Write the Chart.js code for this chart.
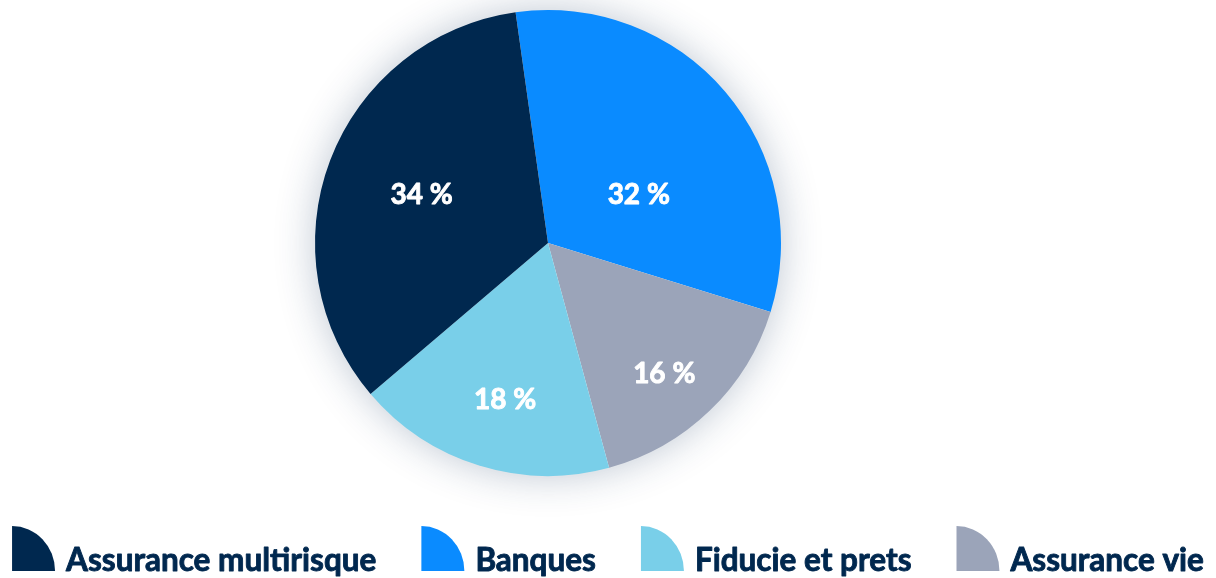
<!DOCTYPE html>
<html>
<head>
<meta charset="utf-8">
<script src="https://cdn.jsdelivr.net/npm/chart.js@4.4.0/dist/chart.umd.min.js"></script>
<style>
  html, body { margin: 0; padding: 0; background: #fff; overflow: hidden; }
  #wrap { width: 1216px; height: 578px; }
</style>
</head>
<body>
<div id="wrap"><canvas id="myChart"></canvas></div>
<script>
// slices, clockwise from the top
const labels = ["Banques", "Assurance vie", "Fiducie et prets", "Assurance multirisque"];
const values = [32, 16, 18, 34];
const colors = ["#0a8bff", "#9ba4b9", "#79cfe9", "#00284f"];
// order of the legend under the pie
const legendOrder = ["Assurance multirisque", "Banques", "Fiducie et prets", "Assurance vie"];

// where each percentage sits in its slice: [fraction of the angle, fraction of the radius]
const labelSpot = [[0.61, 0.44], [0.54, 0.75], [0.47, 0.70], [0.5, 0.58]];

const navy = "#00284f";

// soft shadow round the whole pie
const pieShadow = {
  id: "pieShadow",
  beforeDatasetsDraw(chart) {
    const arc = chart.getDatasetMeta(0).data[0];
    if (!arc) return;
    const ctx = chart.ctx;
    ctx.save();
    ctx.shadowColor = "rgba(30,60,100,0.3)";
    ctx.shadowBlur = 40;
    ctx.fillStyle = "#fff";
    ctx.beginPath();
    ctx.arc(arc.x, arc.y, arc.outerRadius - 1, 0, Math.PI * 2);
    ctx.fill();
    ctx.restore();
  }
};

// white percentages inside the slices
const sliceLabels = {
  id: "sliceLabels",
  afterDatasetsDraw(chart) {
    const ctx = chart.ctx;
    const meta = chart.getDatasetMeta(0);
    ctx.save();
    ctx.fillStyle = "#fff";
    ctx.strokeStyle = "#fff";
    ctx.lineWidth = 0.9;
    ctx.lineJoin = "round";
    ctx.font = "bold 28px Lato";
    ctx.textAlign = "center";
    ctx.textBaseline = "middle";
    meta.data.forEach((arc, i) => {
      const a = arc.startAngle + labelSpot[i][0] * (arc.endAngle - arc.startAngle);
      const r = arc.outerRadius * labelSpot[i][1];
      const txt = values[i] + " %";
      const x = arc.x + Math.cos(a) * r, y = arc.y + Math.sin(a) * r;
      ctx.fillText(txt, x, y);
      ctx.strokeText(txt, x, y);
    });
    ctx.restore();
  }
};

// legend with quarter-circle keys, spread along the bottom
const quarterLegend = {
  id: "quarterLegend",
  afterDraw(chart) {
    const ctx = chart.ctx;
    const iconW = 43, iconH = 45, textGap = 11, itemGap = 45;
    const baseline = 571;
    ctx.save();
    ctx.font = "bold 31.5px Lato";
    ctx.textBaseline = "alphabetic";
    ctx.lineWidth = 0.9;
    ctx.lineJoin = "round";
    const widths = legendOrder.map(t => ctx.measureText(t).width);
    let total = widths.reduce((s, w) => s + w + iconW + textGap, 0) + itemGap * (legendOrder.length - 1);
    let x = (chart.width - total) / 2;
    legendOrder.forEach((name, k) => {
      const i = labels.indexOf(name);
      ctx.fillStyle = colors[i];
      ctx.beginPath();
      ctx.moveTo(x, baseline);
      ctx.ellipse(x, baseline, iconW, iconH, 0, -Math.PI / 2, 0);
      ctx.closePath();
      ctx.fill();
      ctx.fillStyle = navy;
      ctx.strokeStyle = navy;
      ctx.fillText(name, x + iconW + textGap, baseline);
      ctx.strokeText(name, x + iconW + textGap, baseline);
      x += iconW + textGap + widths[k] + itemGap;
    });
    ctx.restore();
  }
};

new Chart("myChart", {
  type: "pie",
  data: {
    labels: labels,
    datasets: [{
      data: values,
      backgroundColor: colors,
      borderWidth: 0
    }]
  },
  options: {
    responsive: true,
    maintainAspectRatio: false,
    animation: false,
    rotation: -8,
    layout: { padding: { top: 10, bottom: 102, left: 0, right: 120 } },
    plugins: {
      legend: { display: false },
      tooltip: { enabled: false }
    }
  },
  plugins: [pieShadow, sliceLabels, quarterLegend]
});
</script>
</body>
</html>
